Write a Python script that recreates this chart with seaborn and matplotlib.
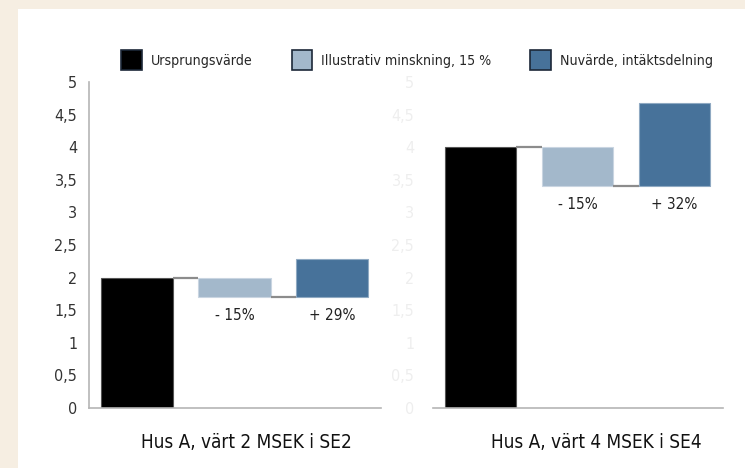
import matplotlib
matplotlib.use("Agg")
import matplotlib.pyplot as plt
from matplotlib.patches import Patch, Rectangle
from matplotlib.ticker import FuncFormatter
import pandas as pd
import seaborn as sns

# data
steps = ["Ursprungsvärde", "Illustrativ minskning, 15 %", "Nuvärde, intäktsdelning"]
panel_titles = ["Hus A, värt 2 MSEK i SE2", "Hus A, värt 4 MSEK i SE4"]
start_values = [2.0, 4.0]
decrease_pct = [15, 15]
increase_pct = [29, 32]
change_labels = [["- 15%", "+ 29%"], ["- 15%", "+ 32%"]]
y_ticks = [0, 0.5, 1, 1.5, 2, 2.5, 3, 3.5, 4, 4.5, 5]

colors = ["#000000", "#a3b8cb", "#47729a"]
edges = ["#555555", "#c9d5e1", "#8fa9c2"]
BEIGE = "#f6eee2"

sns.set_theme(style="white")
plt.rcParams["font.family"] = ["DejaVu Sans"]
plt.rcParams["font.stretch"] = "condensed"

fig = plt.figure(figsize=(7.45, 4.68), dpi=100, facecolor=BEIGE)
fig.patches.append(Rectangle((18 / 745, 0), 1, 1 - 9 / 468, transform=fig.transFigure,
                             facecolor="white", edgecolor="none", zorder=-5))

W, H = 745, 468
boxes = [(89, 381), (433, 723)]
title_x = [0.538, 0.562]
width = 0.74
fmt = FuncFormatter(lambda v, _: f"{v:g}".replace(".", ","))

for i, (x0, x1) in enumerate(boxes):
    ax = fig.add_axes([x0 / W, (H - 408) / H, (x1 - x0) / W, (408 - 82) / H])
    ax.set_facecolor("none")
    start = start_values[i]
    low = start * (1 - decrease_pct[i] / 100)
    high = low + start * increase_pct[i] / 100
    df = pd.DataFrame({
        "step": steps,
        "height": [start, start - low, high - low],
        "bottom": [0, low, low],
    })
    sns.barplot(data=df, x="step", y="height", bottom=df["bottom"].to_numpy(), width=width,
                color="black", errorbar=None, ax=ax, linewidth=0.8)
    for p, c, e in zip(ax.patches, colors, edges):
        p.set_facecolor(c)
        p.set_edgecolor(e)

    # connectors between bars
    levels = [start, low]
    for k, lev in enumerate(levels):
        ax.plot([k + width / 2, k + 1 - width / 2], [lev, lev], color="#8c8c8c", lw=1.6,
                solid_capstyle="butt", zorder=3)

    for k, lab in enumerate(change_labels[i]):
        ax.text(k + 1, low - 0.16, lab, ha="center", va="top", fontsize=11, color="#222222")

    ax.set_xlim(-0.49, 2.5)
    ax.set_ylim(0, 5)
    ax.set_yticks(y_ticks)
    ax.yaxis.set_major_formatter(fmt)
    ax.set_xticks([])
    ax.set_xlabel("")
    ax.set_ylabel("")
    for s in ["top", "right"]:
        ax.spines[s].set_visible(False)
    ax.spines["bottom"].set_color("#b5b5b5")
    ax.spines["bottom"].set_linewidth(1.2)
    if i == 0:
        ax.spines["left"].set_color("#b5b5b5")
        ax.spines["left"].set_linewidth(1.2)
        ax.tick_params(axis="y", length=0, pad=8.5, labelsize=11.5, labelcolor="#333333")
    else:
        ax.spines["left"].set_visible(False)
        ax.tick_params(axis="y", length=0, pad=13.5, labelsize=11.5, labelcolor="#eeeeee")
    ax.text(title_x[i], -(443 - 408) / 326, panel_titles[i], transform=ax.transAxes,
            ha="center", va="center", fontsize=13.6, color="#111111")

handles = [Patch(facecolor=c, edgecolor="#1c2838", linewidth=1.2) for c in colors]
fig.legend(handles, steps, loc="center", bbox_to_anchor=((117 + 717) / 2 / W, 1 - 60 / H),
           ncol=3, frameon=False, fontsize=10.2, handlelength=1.48, handleheight=1.69,
           handletextpad=0.6, columnspacing=2.75)

fig.savefig("out.png", dpi=100, facecolor=BEIGE)
